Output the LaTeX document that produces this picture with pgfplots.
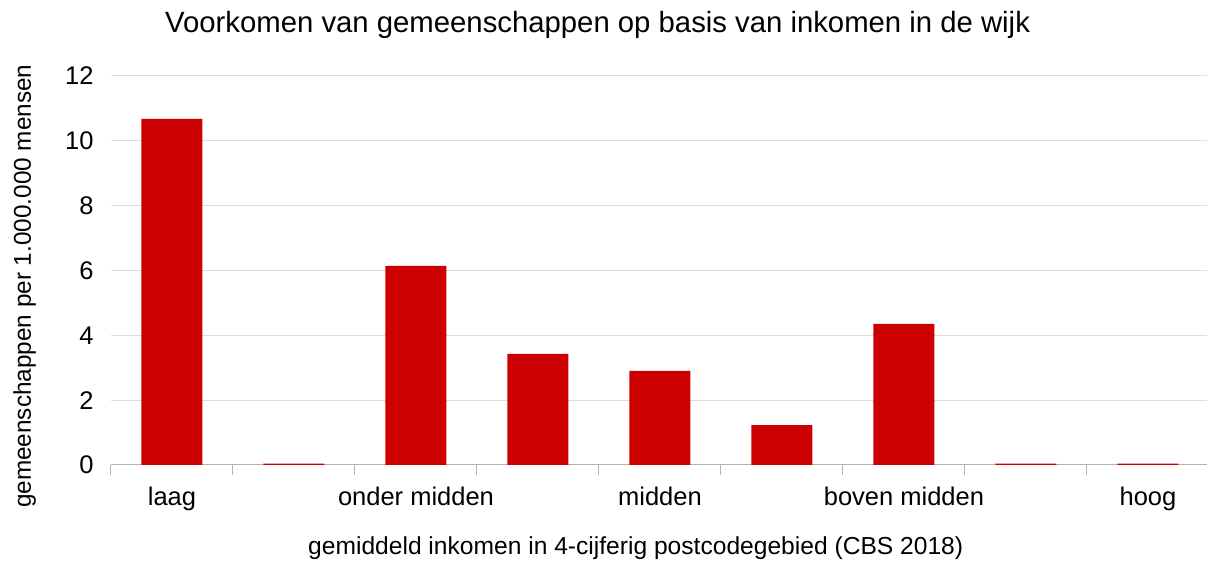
\documentclass[border=0pt]{standalone}
\usepackage{pgfplots}
\pgfplotsset{compat=1.18}
\usepackage{fontspec}
\setmainfont{Liberation Sans}
\definecolor{barred}{HTML}{CC0000}
\definecolor{gridgray}{HTML}{DDDDDD}
\definecolor{axgray}{HTML}{B3B3B3}
\begin{document}
\begin{tikzpicture}
\begin{axis}[
  at={(0pt,0pt)}, anchor=south west,
  scale only axis, width=1098pt, height=389pt,
  xmin=-0.5, xmax=8.5, ymin=0, ymax=12,
  axis x line*=bottom, axis y line*=left,
  y axis line style={draw=none},
  x axis line style={axgray, line width=1pt},
  ytick={0,2,...,12},
  ymajorgrids, grid style={gridgray, line width=1pt},
  major y tick style={draw=none},
  xtick={0,...,8},
  xticklabels={laag,,onder midden,,midden,,boven midden,,hoog},
  major x tick style={draw=none},
  minor xtick={-0.5,0.5,...,8.5},
  minor x tick style={axgray, line width=1pt},
  minor tick length=10pt,
  major tick length=0pt,
  tick align=outside,
  ticklabel style={font=\fontsize{25.5}{30}\selectfont},
  /pgf/number format/assume math mode=true,
  xticklabel style={anchor=base, yshift=-41pt},
  yticklabel style={anchor=east, xshift=-14pt},
  ybar, bar width=61pt,
]
\addplot[fill=barred, draw=none] coordinates {
  (0,10.68) (1,0.04) (2,6.14) (3,3.43) (4,2.90) (5,1.23) (6,4.35) (7,0.04) (8,0.04)
};
\end{axis}
\node[anchor=base west, font=\fontsize{29.3}{34}\selectfont, inner sep=0pt] at (54pt,432pt) {Voorkomen van gemeenschappen op basis van inkomen in de wijk};
\node[anchor=base west, font=\fontsize{24.6}{29}\selectfont, inner sep=0pt] at (197pt,-90pt) {gemiddeld inkomen in 4-cijferig postcodegebied (CBS 2018)};
\node[anchor=base west, rotate=90, font=\fontsize{24.3}{29}\selectfont, inner sep=0pt] at (-80pt,-43pt) {gemeenschappen per 1.000.000 mensen};
\pgfresetboundingbox
\path[use as bounding box] (-111pt,-99pt) rectangle (1096pt,465pt);
\end{tikzpicture}
\end{document}
